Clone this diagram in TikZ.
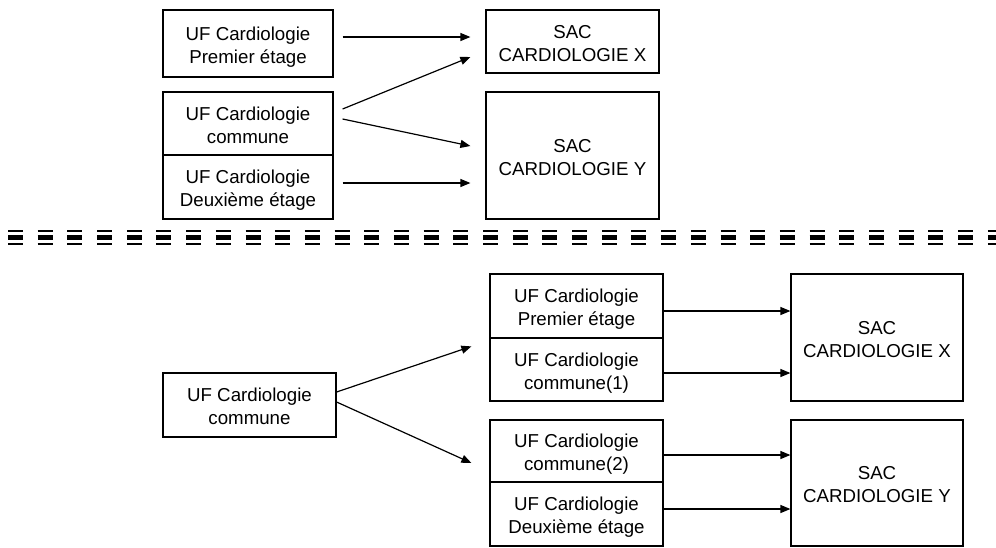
\documentclass[tikz,border=0pt]{standalone}
\usepackage{fontspec}
\setmainfont{Liberation Sans}
\usetikzlibrary{arrows.meta}
% struts that give every two-line label the same height and depth
\newcommand{\boxtopstrut}{\rule{0pt}{20.9pt}}
\newcommand{\boxbotstrut}{\rule[-4.5pt]{0pt}{4.5pt}}
\begin{document}
\begin{tikzpicture}[x=1pt,y=-1pt,
  box/.style={draw=black,line width=1.2pt,rectangle,inner sep=0pt,align=center,
    font=\fontsize{18.7}{23}\selectfont},
  arr/.style={line width=1.2pt,-{Triangle[length=10pt,width=8pt]}},
  sepline/.style={dash pattern=on 15pt off 14.69pt,dash phase=0pt}]
\useasboundingbox (0,0) rectangle (996,547);
\fill[white] (0,0) rectangle (996,547);

% ---- upper layout ----
\node[box,minimum width=170pt,minimum height=67pt] (A) at (248,43.5) {\boxtopstrut UF Cardiologie\\Premier étage\boxbotstrut};
\node[box,minimum width=170pt,minimum height=63pt] (B) at (248,123.5) {\boxtopstrut UF Cardiologie\\commune\boxbotstrut};
\node[box,minimum width=170pt,minimum height=64pt] (C) at (248,187) {\boxtopstrut UF Cardiologie\\Deuxième étage\boxbotstrut};
\node[box,minimum width=173pt,minimum height=63pt] (SX) at (572.5,41.5) {\boxtopstrut SAC\\CARDIOLOGIE X\boxbotstrut};
\node[box,minimum width=173pt,minimum height=127pt] (SY) at (572.5,155.5) {\boxtopstrut SAC\\CARDIOLOGIE Y\boxbotstrut};

\draw[arr] ([shift={(9,-6.5)}]A.east) -- ([shift={(-15,-4.5)}]SX.west);
\draw[arr] ([shift={(9,-14.5)}]B.east) -- ([shift={(-15,15.5)}]SX.west);
\draw[arr] ([shift={(9,-4.5)}]B.east) -- ([shift={(-15,-9.5)}]SY.west);
\draw[arr] ([shift={(9,-4)}]C.east) -- ([shift={(-15,27.5)}]SY.west);

% ---- separator ----
\draw[sepline,line width=1.8pt] (8,231.3) -- (996,231.3);
\draw[sepline,line width=4.3pt] (8,237.5) -- (996,237.5);
\draw[sepline,line width=1.8pt] (8,243.8) -- (996,243.8);

% ---- lower layout ----
\node[box,minimum width=173pt,minimum height=64pt] (L) at (249.5,405) {\boxtopstrut UF Cardiologie\\commune\boxbotstrut};
\node[box,minimum width=173pt,minimum height=64pt] (M1) at (576.5,306) {\boxtopstrut UF Cardiologie\\Premier étage\boxbotstrut};
\node[box,minimum width=173pt,minimum height=63pt] (M2) at (576.5,369.5) {\boxtopstrut UF Cardiologie\\commune(1)\boxbotstrut};
\node[box,minimum width=173pt,minimum height=62pt] (M3) at (576.5,451) {\boxtopstrut UF Cardiologie\\commune(2)\boxbotstrut};
\node[box,minimum width=173pt,minimum height=64pt] (M4) at (576.5,514) {\boxtopstrut UF Cardiologie\\Deuxième étage\boxbotstrut};
\node[box,minimum width=172pt,minimum height=127pt] (SX2) at (877,337.5) {\boxtopstrut SAC\\CARDIOLOGIE X\boxbotstrut};
\node[box,minimum width=172pt,minimum height=126pt] (SY2) at (877,483) {\boxtopstrut SAC\\CARDIOLOGIE Y\boxbotstrut};

\draw[arr] ([shift={(0,-13)}]L.east) -- ([shift={(-18,9)}]M2.north west);
\draw[arr] ([shift={(0,-3)}]L.east) -- ([shift={(-18,12)}]M3.west);

\draw[arr] ([shift={(0,5)}]M1.east) coordinate (p1) -- (p1 -| SX2.west);
\draw[arr] ([shift={(0,3.5)}]M2.east) coordinate (p2) -- (p2 -| SX2.west);
\draw[arr] ([shift={(0,4)}]M3.east) coordinate (p3) -- (p3 -| SY2.west);
\draw[arr] ([shift={(0,-5)}]M4.east) coordinate (p4) -- (p4 -| SY2.west);
\end{tikzpicture}
\end{document}
